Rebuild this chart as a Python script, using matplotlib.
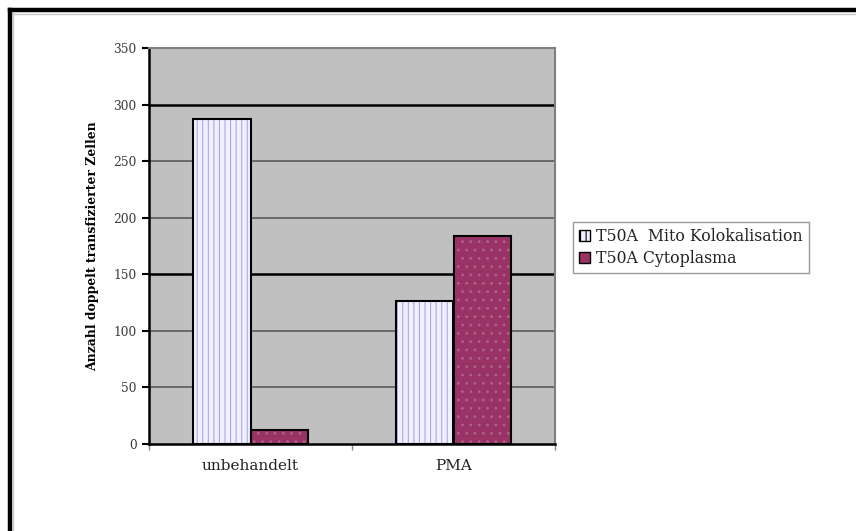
import matplotlib
matplotlib.use("Agg")
import matplotlib.pyplot as plt
import numpy as np
from matplotlib.lines import Line2D
from matplotlib.patches import Patch

categories = ["unbehandelt", "PMA"]
series_names = ["T50A  Mito Kolokalisation", "T50A Cytoplasma"]
mito = [287, 126]
cyto = [12, 184]
yticks = [0, 50, 100, 150, 200, 250, 300, 350]

W, H = 856, 531
fig = plt.figure(figsize=(W / 100, H / 100), dpi=100)
fig.patch.set_facecolor("white")

ax = fig.add_axes([149 / W, 1 - 444 / H, 406 / W, 396 / H])
ax.set_facecolor("#c0c0c0")

x = np.arange(len(categories))
bw = 0.285

# gridlines
for v in yticks[1:-1]:
    if v in (150, 300):
        ax.axhline(v, color="#000000", lw=1.8, zorder=1)
    else:
        ax.axhline(v, color="#5a5a5a", lw=1.2, zorder=1)

plt.rcParams["hatch.linewidth"] = 0.8

# Mito bars: pale fill with blue vertical pattern, then black outline
ax.bar(x - bw / 2, mito, bw, color="#f0f0ff", edgecolor="#a8a8f0",
       hatch="|||", linewidth=0, zorder=2)
ax.bar(x - bw / 2, mito, bw, fill=False, edgecolor="black", linewidth=1.5, zorder=3)

# Cytoplasma bars: plum fill with light dotted pattern
ax.bar(x + bw / 2, cyto, bw, color="#993366", edgecolor="#b06088",
       hatch="..", linewidth=0, zorder=2)
ax.bar(x + bw / 2, cyto, bw, fill=False, edgecolor="black", linewidth=1.5, zorder=3)

serif = "DejaVu Serif"

ax.set_xlim(-0.5, 1.5)
ax.set_ylim(0, 350)
ax.set_yticks(yticks)
ax.set_yticklabels([str(v) for v in yticks], family=serif,
                   fontsize=8.8, color="#3a3a3a")
ax.set_xticks([-0.5, 0.5, 1.5])
ax.set_xticklabels([])
ax.set_xticks(x, minor=True)
ax.set_xticklabels(categories, minor=True, family=serif,
                   fontsize=11, color="#222222")
ax.tick_params(axis="x", which="minor", length=0, pad=11)
ax.tick_params(axis="x", which="major", length=4, width=1, color="#888888")
ax.tick_params(axis="y", length=5, width=1.5, color="#000000", pad=4)

for s in ("left", "bottom"):
    ax.spines[s].set_color("black")
    ax.spines[s].set_linewidth(1.8)
for s in ("top", "right"):
    ax.spines[s].set_color("#808080")
    ax.spines[s].set_linewidth(1.5)

ax.set_ylabel("Anzahl doppelt transfizierter Zellen", family=serif,
              fontweight="bold", fontsize=8.9, labelpad=10)

handles = [Patch(facecolor="#f0f0ff", edgecolor="black", hatch="|||"),
           Patch(facecolor="#993366", edgecolor="black")]
leg = fig.legend(handles, series_names, loc="upper left",
                 bbox_to_anchor=(573 / W, 1 - 222 / H), borderaxespad=0,
                 prop={"family": serif, "size": 11.3},
                 frameon=True, fancybox=False, handlelength=0.7, handleheight=0.7,
                 handletextpad=0.35, borderpad=0.4, labelspacing=0.3)
leg.get_frame().set_edgecolor("#808080")
leg.get_frame().set_linewidth(1.0)
for t in leg.get_texts():
    t.set_color("#222222")

# outer frame
def fline(xs, ys, **kw):
    fig.add_artist(Line2D([v / W for v in xs], [1 - v / H for v in ys],
                          transform=fig.transFigure, **kw))

fline([10, 10], [10, H + 5], color="black", lw=3.2)
fline([10, W + 5], [10, 10], color="black", lw=3.2)
fline([13.5, 13.5], [13, H + 5], color="#c8c8c8", lw=1)
fline([13, W + 5], [13.5, 13.5], color="#c8c8c8", lw=1)

fig.savefig("out.png", dpi=100)
